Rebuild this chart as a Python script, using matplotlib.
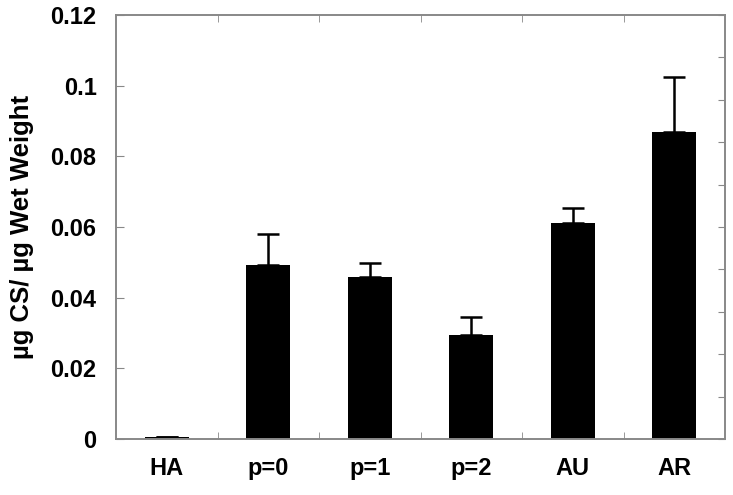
import numpy as np
import matplotlib
matplotlib.use("Agg")
import matplotlib.pyplot as plt

categorias = ["HA", "p=0", "p=1", "p=2", "AU", "AR"]
valores = [0.0006, 0.0492, 0.0459, 0.0294, 0.0611, 0.0869]
errores = [0.0, 0.0089, 0.0040, 0.0051, 0.0042, 0.0155]

plt.rcParams['font.family'] = ['Liberation Sans', 'DejaVu Sans']
plt.rcParams['font.weight'] = 'bold'

fig = plt.figure(figsize=(7.33, 4.95), dpi=100)
ax = fig.add_axes([116/733, 1 - 439/495, (725-116)/733, (439-15)/495])

x = np.arange(len(categorias))
ax.bar(x, valores, width=0.43, color='black',
       yerr=[np.zeros(len(errores)), errores],
       error_kw=dict(ecolor='black', elinewidth=1.8, capsize=8, capthick=1.8))

ax.set_xlim(-0.5, len(categorias) - 0.5)
ax.set_ylim(0, 0.12)
ax.set_yticks(np.arange(0, 0.121, 0.02))
ax.set_yticklabels(["0", "0.02", "0.04", "0.06", "0.08", "0.1", "0.12"], fontsize=17, fontweight='bold')

# etiquetas en el centro, marcas entre categorias
ax.set_xticks(x)
ax.set_xticklabels(categorias, fontsize=17, fontweight='bold')
ax.tick_params(axis='x', which='major', length=0, pad=13)
ax.set_xticks(np.arange(0.5, len(categorias) - 0.5, 1), minor=True)
ax.tick_params(axis='x', which='minor', direction='in', length=5, color='#888888',
               top=True, bottom=True)
ax.tick_params(axis='y', which='major', direction='in', length=6, color='#888888', pad=14)

ax2 = ax.twinx()
ax2.set_ylim(0, 0.12)
ax2.set_yticks(np.linspace(0, 0.12, 11))
ax2.set_yticklabels([])
ax2.tick_params(axis='y', direction='in', length=5, color='#888888')

for a in (ax, ax2):
    for s in a.spines.values():
        s.set_color('#888888')
        s.set_linewidth(1.2)

ax.set_ylabel("µg CS/ µg Wet Weight", fontsize=18.5, fontweight='bold', labelpad=12)

fig.savefig("out.png", dpi=100)
